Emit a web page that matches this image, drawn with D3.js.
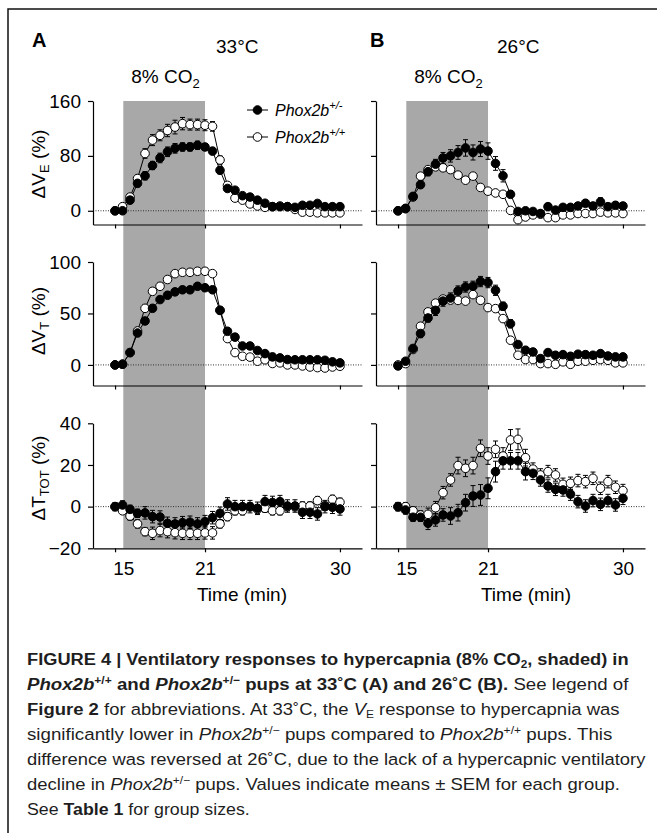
<!DOCTYPE html>
<html><head><meta charset="utf-8">
<script src="https://cdn.jsdelivr.net/npm/d3@7"></script>
<style>body{margin:0;background:#fff}svg{display:block}</style>
</head><body>
<svg id="c" width="657" height="833"></svg>
<script>
// ---------- DATA ----------
const times = [15,15.5,16,16.5,17,17.5,18,18.5,19,19.5,20,20.5,21,21.5,22,22.5,23,23.5,24,24.5,25,25.5,26,26.5,27,27.5,28,28.5,29,29.5,30];
const co2Start = 15.55, co2End = 21;
const xTickValues = [15, 21, 30];
const xTickLabels = ["15", "21", "30"];
const panelTitles = ["33°C", "26°C"];
const panelLetters = ["A", "B"];
const seriesNames = ["Phox2b", "Phox2b"];
const seriesSups = ["+/-", "+/+"];

// Row 1: ΔVE (%)
const veDomain = [-20, 160], veTicks = [0, 80, 160];
const aVE_het = [0,0,15.5,40,51,66,77,86,91,93,93,95.5,93,87,59,32.5,30,22,20,15.5,11,6,6,6,5,8,8,10.7,6,6,6];
const aVE_hetSem = [2,2,4,5,6,6,7,7,7,6,6,6,5,5,5,4,4,3,3,3,3,3,3,3,3,3,3,3,3,3,3];
const aVE_wt = [0,6,20,47,83.5,103,110,117,122,127,125.6,125.6,124.7,123,74,37,18.5,15.5,10,7,5,6,7,6,2,-2,-2,-3,-3,-3,-3];
const aVE_wtSem = [2,2,4,5,7,8,8,9,10,9,8,8,8,7,6,4,3,3,3,3,3,3,3,3,3,3,3,3,3,3,3];
const bVE_het = [0,3.5,21,38,57,68,77,80,85,91.6,85,90,87,69,51,24,-1,0,-1,-4,6,1,5,5,7,11,7,13,6,8,7];
const bVE_hetSem = [2,2,4,5,6,7,8,9,10,12,11,11,12,10,9,5,4,4,4,4,4,4,4,4,5,5,5,6,5,5,5];
const bVE_wt = [0,3,20,50.5,60,64,62.6,60,52,44.6,50.5,34,28.6,26,24,0.5,-13,-9,-6,-5,-10,-10,-6,-6,-4,-4,-4,-2,-3,-3,-4];
const bVE_wtSem = [2,2,3,4,4,4,4,4,4,4,4,4,4,4,4,4,4,3,3,3,3,3,3,3,3,3,3,3,3,3,3];

// Row 2: ΔVT (%)
const vtDomain = [-20, 100], vtTicks = [0, 50, 100];
const aVT_het = [0,0.7,12,31,42.7,55,63.5,67.7,71,73,73,76.4,75,73,53,32.7,27,18.4,18.4,14,11,7.8,6.8,5.2,5,5,5,5,4.5,3,2];
const aVT_hetSem = [2,2,3,3,3,3,3,3,3,3,3,3,3,3,3,3,3,2,2,2,2,2,2,2,2,2,2,2,2,2,2];
const aVT_wt = [0,0.7,12,33,55,71.5,76.4,83,88.7,90,90,91,91,88.7,53,25.6,12,8.4,7.6,3.6,5,1.4,2,0,0,-1,-2,-2.6,-3,-2,-1.3];
const aVT_wtSem = [2,2,3,3,3,3,3,3,3,3,3,3,3,3,3,3,2,2,2,2,2,2,2,2,2,2,2,2,2,2,2];
const bVT_het = [-1,3.6,16,30.5,45.6,53,62,65,71.8,75.7,76.4,81,80,72.5,57,40,19.8,14.3,12.6,6.2,12,9.4,10,8.4,10.4,10,9.4,11,8.7,7.8,7.8];
const bVT_hetSem = [2,2,3,4,4,5,5,5,5,5,5,5,5,5,4,4,3,3,3,3,3,3,3,3,3,3,3,3,3,3,3];
const bVT_wt = [0,1.3,15,37.6,51.5,60,64,63,62.7,62,68.3,62.8,55.7,54.7,45,24,9.4,5.2,5.2,1.3,1.3,0.6,3,0.6,3.6,3.6,4.5,5.2,4.5,2,2];
const bVT_wtSem = [2,2,3,3,3,3,3,3,3,3,3,3,3,3,3,3,2,2,2,2,2,2,2,2,2,2,2,2,2,2,2];

// Row 3: ΔTTOT (%)
const ttDomain = [-20, 40], ttTicks = [-20, 0, 20, 40];
const aTT_het = [0,0.8,-1.3,-3.2,-3,-4.8,-5,-8,-8.3,-7.7,-7.5,-8.3,-7.2,-5.3,-3.2,1.3,0,0,0,-0.8,2.4,2,2.4,0.3,0.3,-2.7,-2.7,-3.5,0,-0.3,-1.1];
const aTT_hetSem = [2,2,2,2,3,3,3,3,3,3,3,3,3,3,3,3,3,3,3,3,3,3,3,3,3,3,3,3,3,3,3];
const aTT_wt = [0,-2,-4.5,-8.3,-12,-12.8,-11.5,-12,-12.5,-12.8,-12.8,-12.8,-12.6,-12.6,-8.3,-4.8,-2,-2,0,-1.3,-0.8,-2,-2,0,0,0.3,0.3,2.9,0.3,3.5,2.1];
const aTT_wtSem = [1,1,2,2,2,3,3,3,3,3,3,3,3,3,2,2,2,2,2,2,2,2,2,2,2,2,2,2,2,2,2];
const bTT_het = [0,-1.6,-5.1,-5.1,-8,-6.4,-4,-4.5,-2.9,1.9,5.1,5.6,8.8,16.8,22,22,22,16.8,16,12.8,9.9,8.3,8,6,2.4,0.3,2.9,1.1,2.9,0.8,4];
const bTT_hetSem = [2,2,2,2,3,3,3,4,4,4,5,5,5,5,4,4,4,4,3,3,3,3,3,3,3,3,3,3,3,3,3];
const bTT_wt = [0,0,-2,-4,-3.7,-0.5,6.7,12.8,19.7,18.4,19.7,28,24.3,27.5,24.3,32,32.3,23.5,18,15.2,16.8,15.2,10.7,11.2,12.5,12,13.6,8.8,12,9.3,7.7];
const bTT_wtSem = [2,2,2,2,3,3,3,3,4,4,4,4,4,4,4,5,5,4,3,3,3,3,3,3,3,3,3,3,3,3,3];

// ---------- LAYOUT ----------
const FONT = "'Liberation Sans', Arial, Helvetica, sans-serif";
const svg = d3.select("#c").attr("font-family", FONT);
svg.append("rect").attr("width", 657).attr("height", 833).attr("fill", "#fff");
svg.append("rect").attr("x", 8).attr("y", 9).attr("width", 700).attr("height", 900)
  .attr("fill", "none").attr("stroke", "#111").attr("stroke-width", 1.5);

const panelX = [[93, 362], [376, 645]];
const rowY = [[101, 224.5], [262, 385.5], [423.3, 548.3]];
const xDomain = [13.53, 31.47];

const rows = [
  { domain: veDomain, ticks: veTicks, label: ["ΔV", "E", " (%)"], labelY: 164,
    data: [[aVE_het, aVE_hetSem, aVE_wt, aVE_wtSem], [bVE_het, bVE_hetSem, bVE_wt, bVE_wtSem]] },
  { domain: vtDomain, ticks: vtTicks, label: ["ΔV", "T", " (%)"], labelY: 321,
    data: [[aVT_het, aVT_hetSem, aVT_wt, aVT_wtSem], [bVT_het, bVT_hetSem, bVT_wt, bVT_wtSem]] },
  { domain: ttDomain, ticks: ttTicks, label: ["ΔT", "TOT", " (%)"], labelY: 478,
    data: [[aTT_het, aTT_hetSem, aTT_wt, aTT_wtSem], [bTT_het, bTT_hetSem, bTT_wt, bTT_wtSem]] }
];

const R = 4.3;

panelX.forEach((px, p) => {
  const x = d3.scaleLinear().domain(xDomain).range(px);
  // shading
  svg.append("rect")
    .attr("x", x(co2Start)).attr("y", rowY[0][0])
    .attr("width", x(co2End) - x(co2Start)).attr("height", rowY[2][1] - rowY[0][0])
    .attr("fill", "#a8a8a8");

  // titles
  svg.append("text").attr("x", p === 0 ? 32 : 370).attr("y", 47)
    .attr("font-size", 20).attr("font-weight", "bold").text(panelLetters[p]);
  svg.append("text").attr("x", p === 0 ? 216 : 497).attr("y", 53)
    .attr("font-size", 19).text(panelTitles[p]);
  const co = svg.append("text").attr("x", x(co2Start) + 8).attr("y", 83).attr("font-size", 19);
  co.append("tspan").text("8% CO");
  co.append("tspan").attr("font-size", 13).attr("dy", 5).text("2");

  rows.forEach((row, r) => {
    const y = d3.scaleLinear().domain(row.domain).range([rowY[r][1], rowY[r][0]]);
    const g = svg.append("g");

    // zero dotted line
    g.append("line").attr("x1", px[0]).attr("x2", px[1]).attr("y1", y(0)).attr("y2", y(0))
      .attr("stroke", "#333").attr("stroke-width", 1).attr("stroke-dasharray", "1,1.5");

    // y axis
    const ya = d3.axisLeft(y).tickValues(row.ticks).tickSize(5).tickSizeOuter(0).tickPadding(7);
    if (p === 1) ya.tickFormat("");
    const yg = g.append("g").attr("transform", `translate(${px[0]},0)`).call(ya);
    yg.selectAll("text").attr("font-size", 19).attr("font-family", FONT).attr("fill", "#000");
    yg.selectAll("path,line").attr("stroke", "#000").attr("stroke-width", 1.2);

    // x axis
    const xa = d3.axisBottom(x).tickValues(xTickValues).tickSize(4).tickSizeOuter(0).tickPadding(9.5)
      .tickFormat((d, i) => r === 2 ? xTickLabels[i] : "");
    const xg = g.append("g").attr("transform", `translate(0,${rowY[r][1]})`).call(xa);
    xg.selectAll("text").attr("font-size", 19).attr("font-family", FONT).attr("fill", "#000");
    xg.selectAll("path,line").attr("stroke", "#000").attr("stroke-width", 1.2);
    // the "15" label sits under the start of the CO2 period
    xg.selectAll(".tick").filter(d => d === 15).select("text").attr("x", x(co2Start) - x(15));

    // y label
    if (p === 0) {
      const lt = svg.append("text").attr("transform", `translate(45,${row.labelY}) rotate(-90)`)
        .attr("text-anchor", "middle").attr("font-size", 19);
      lt.append("tspan").text(row.label[0]);
      lt.append("tspan").attr("font-size", 13).attr("dy", 4).text(row.label[1]);
      lt.append("tspan").attr("dy", -4).text(row.label[2]);
    }

    const [het, hetSem, wt, wtSem] = row.data[p];
    const line = d3.line().x((d, i) => x(times[i])).y(d => y(d));
    // error bars
    [[wt, wtSem], [het, hetSem]].forEach(([v, s]) => {
      const eb = g.append("g").attr("stroke", "#000").attr("stroke-width", 1);
      v.forEach((d, i) => {
        const cx = x(times[i]);
        eb.append("line").attr("x1", cx).attr("x2", cx).attr("y1", y(d - s[i])).attr("y2", y(d + s[i]));
        eb.append("line").attr("x1", cx - 2.5).attr("x2", cx + 2.5).attr("y1", y(d + s[i])).attr("y2", y(d + s[i]));
        eb.append("line").attr("x1", cx - 2.5).attr("x2", cx + 2.5).attr("y1", y(d - s[i])).attr("y2", y(d - s[i]));
      });
    });
    // lines
    g.append("path").datum(wt).attr("d", line).attr("fill", "none").attr("stroke", "#000").attr("stroke-width", 1);
    g.append("path").datum(het).attr("d", line).attr("fill", "none").attr("stroke", "#000").attr("stroke-width", 1);
    // markers
    g.selectAll(".wt").data(wt).join("circle").attr("class", "wt")
      .attr("cx", (d, i) => x(times[i])).attr("cy", d => y(d)).attr("r", R)
      .attr("fill", "#fff").attr("stroke", "#000").attr("stroke-width", 1);
    g.selectAll(".het").data(het).join("circle").attr("class", "het")
      .attr("cx", (d, i) => x(times[i])).attr("cy", d => y(d)).attr("r", R)
      .attr("fill", "#000").attr("stroke", "#000").attr("stroke-width", 1);
  });

  // Time label
  svg.append("text").attr("x", p === 0 ? 242 : 526).attr("y", 601)
    .attr("text-anchor", "middle").attr("font-size", 19).text("Time (min)");
});

// legend
[0, 1].forEach(k => {
  const ly = k === 0 ? 110 : 137;
  svg.append("line").attr("x1", 247).attr("x2", 268).attr("y1", ly).attr("y2", ly).attr("stroke", "#000");
  svg.append("circle").attr("cx", 257.5).attr("cy", ly).attr("r", R)
    .attr("fill", k === 0 ? "#000" : "#fff").attr("stroke", "#000");
  const t = svg.append("text").attr("x", 275).attr("y", ly + 6).attr("font-size", 16).attr("font-style", "italic");
  t.append("tspan").text(seriesNames[k]);
  t.append("tspan").attr("font-size", 11).attr("dy", -7).text(seriesSups[k]);
});

// ---------- CAPTION ----------
const capSize = 17;
const capLines = [
  { w: 602, segs: [{t: "FIGURE 4 | Ventilatory responses to hypercapnia (8% CO", b: 1}, {t: "2", b: 1, sub: 1}, {t: ", shaded) in", b: 1}] },
  { w: 602, segs: [{t: "Phox2b", b: 1, i: 1}, {t: "+/+", b: 1, sup: 1}, {t: " and ", b: 1}, {t: "Phox2b", b: 1, i: 1}, {t: "+/−", b: 1, sup: 1}, {t: " pups at 33˚C (A) and 26˚C (B).", b: 1}, {t: " See legend of"}] },
  { w: 593, segs: [{t: "Figure 2", b: 1}, {t: " for abbreviations. At 33˚C, the "}, {t: "V", i: 1}, {t: "E", sub: 1}, {t: " response to hypercapnia was"}] },
  { w: 586, segs: [{t: "significantly lower in "}, {t: "Phox2b", i: 1}, {t: "+/−", sup: 1}, {t: " pups compared to "}, {t: "Phox2b", i: 1}, {t: "+/+", sup: 1}, {t: " pups. This"}] },
  { w: 619, segs: [{t: "difference was reversed at 26˚C, due to the lack of a hypercapnic ventilatory"}] },
  { w: 593, segs: [{t: "decline in "}, {t: "Phox2b", i: 1}, {t: "+/−", sup: 1}, {t: " pups. Values indicate means ± SEM for each group."}] },
  { w: 223, segs: [{t: "See "}, {t: "Table 1", b: 1}, {t: " for group sizes."}] }
];
capLines.forEach((ln, k) => {
  const g = svg.append("g");
  const t = g.append("text").attr("x", 0).attr("y", 0).attr("font-size", capSize).attr("fill", "#1e1e1e");
  let off = 0;
  ln.segs.forEach(s => {
    const sp = t.append("tspan").text(s.t);
    if (s.b) sp.attr("font-weight", "bold");
    if (s.i) sp.attr("font-style", "italic");
    let target = 0;
    if (s.sup) { sp.attr("font-size", 11); target = -6; }
    if (s.sub) { sp.attr("font-size", 11); target = 3; }
    if (target !== off) { sp.attr("dy", target - off); off = target; }
  });
  const w = t.node().getComputedTextLength();
  g.attr("transform", `translate(27,${665 + k * 25}) scale(${ln.w / w},1)`);
});
</script>
</body></html>
